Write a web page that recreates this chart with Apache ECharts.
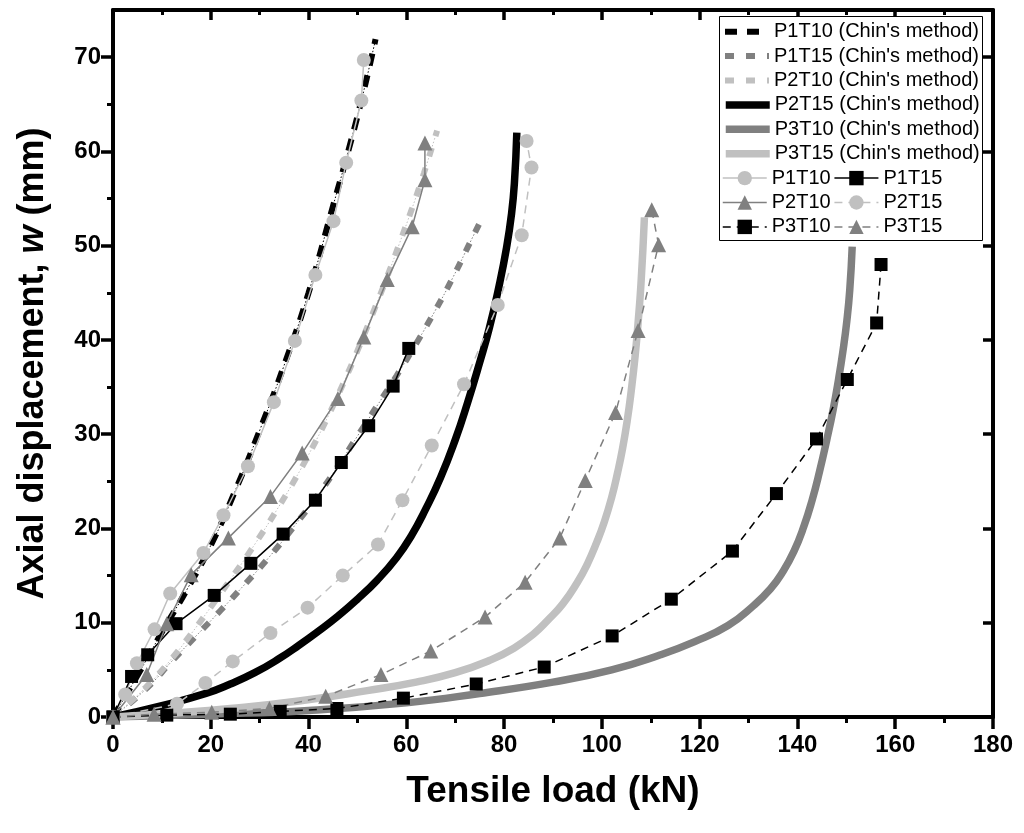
<!DOCTYPE html>
<html>
<head>
<meta charset="utf-8">
<script src="https://cdn.jsdelivr.net/npm/echarts@6/dist/echarts.min.js"></script>
<style>
  html, body { margin: 0; padding: 0; background: #fff; }
  #chart { width: 1024px; height: 833px; }
</style>
</head>
<body>
<div id="chart"></div>
<script>
// Load (kN) vs. axial displacement (mm) pairs for each pile test.
// Measured load-displacement curves
const P1T10 = [[0,0],[2.5,2.4],[4.9,5.7],[8.5,9.3],[11.7,13.1],[18.5,17.4],[22.6,21.4],[27.6,26.6],[32.9,33.4],[37.2,39.9],[41.4,46.9],[45.1,52.6],[47.7,58.8],[50.8,65.4],[51.3,69.7]];
const P1T15 = [[0,0],[3.8,4.3],[7.1,6.6],[12.9,9.9],[20.7,12.9],[28.2,16.3],[34.8,19.4],[41.4,23.0],[46.7,27.0],[52.3,30.9],[57.3,35.1],[60.5,39.1]];
const P2T10 = [[0,0],[6.9,4.5],[11.0,9.9],[16.0,15.1],[23.6,19.0],[32.2,23.4],[38.7,28.0],[46.0,33.8],[51.3,40.3],[56.1,46.4],[61.2,52.0],[63.8,57.0],[63.8,60.9]];
const P2T15 = [[0,0],[13.1,1.4],[18.9,3.6],[24.5,5.9],[32.2,8.9],[39.8,11.6],[47.0,15.0],[54.2,18.3],[59.2,23.0],[65.2,28.8],[71.8,35.3],[78.7,43.7],[83.6,51.1],[85.6,58.3],[84.6,61.1]];
const P3T10 = [[0,0],[11.0,0.2],[24.0,0.3],[34.2,0.6],[45.8,0.9],[59.4,2.0],[74.3,3.5],[88.2,5.3],[102.1,8.6],[114.2,12.5],[126.7,17.6],[135.7,23.7],[143.9,29.5],[150.2,35.8],[156.2,41.8],[157.1,48.0]];
const P3T15 = [[0,0],[8.4,0.3],[20.2,0.5],[32.0,0.9],[43.5,2.2],[54.8,4.5],[65.0,7.0],[76.1,10.6],[84.3,14.3],[91.4,19.0],[96.6,25.1],[102.8,32.3],[107.4,41.0],[111.6,50.1],[110.2,53.8]];

// Hyperbolic fits by Chin's method
const chinP1T10 = [[0,0],[5,4.4],[10,9.0],[15,13.4],[20,18.2],[25,24.0],[30,30.4],[35,37.3],[40,45.0],[45,54.2],[48,59.8],[51,65.8],[53.7,71.9]];
const chinP1T15 = [[0,0],[7,3.1],[12,5.9],[17,8.6],[22,11.3],[27,14.1],[32,17.0],[37,20.2],[42,23.6],[46,26.6],[50,29.8],[54,33.0],[58,36.2],[62,39.6],[66,43.2],[69.5,46.6],[73,50.3],[75,52.4]];
const chinP2T10 = [[0,0],[6.6,3.1],[11.7,6.0],[16.1,8.9],[20.2,11.8],[25,15.3],[29.1,18.4],[33.3,21.8],[37.1,25.1],[40.7,28.5],[44,31.9],[47.2,35.5],[50.2,39.1],[53.5,43.3],[56,46.6],[58.5,50.1],[61.2,54.0],[63.6,57.7],[65.7,61.2],[66.3,62.2]];
const chinP2T15 = [[0,0],[10,1.2],[19,2.5],[24,3.5],[29,4.7],[34,6.2],[38,7.6],[42,9.1],[46,10.7],[50,12.5],[54,14.5],[58,16.9],[61,19.2],[64,22.1],[67,25.4],[70,29.4],[72.5,33.3],[75,37.6],[77,41.3],[79,45.8],[80.5,49.8],[81.5,53.3],[82.1,56.6],[82.6,62.0]];
const chinP3T10 = [[0,0],[20,0.3],[40,0.7],[60,1.5],[75,2.5],[90,3.7],[102,5.0],[112,6.6],[119,8.0],[125.8,9.7],[131,11.8],[134.5,13.6],[137,15.4],[139.3,17.6],[141.3,20.2],[143,23.0],[144.5,26.0],[146,29.4],[147.3,32.6],[148.4,35.8],[149.3,38.8],[150.1,42.0],[150.7,45.3],[151.2,49.9]];
const chinP3T15 = [[0,0],[12,0.4],[24,0.9],[38,1.7],[52,2.8],[62,3.7],[70,4.7],[77,6.0],[82,7.3],[86,8.8],[89,10.3],[92,12.0],[95,14.3],[97,16.2],[99,18.6],[100.5,20.7],[102,23.3],[103.2,25.9],[104.2,28.4],[105.2,31.5],[106,34.6],[106.8,38.3],[107.4,41.8],[108,46.0],[108.7,53.0]];

// Axis ticks
const xTicks = [0, 20, 40, 60, 80, 100, 120, 140, 160, 180];
const yTicks = [0, 10, 20, 30, 40, 50, 60, 70];
const yMinorTicks = [5, 15, 25, 35, 45, 55, 65];

const BLACK = '#000000', GRAY = '#808080', LIGHT = '#c0c0c0';
const FONT = "'Liberation Sans', Arial, Helvetica, sans-serif";

const chinNames = [
  "P1T10 (Chin's method)", "P1T15 (Chin's method)", "P2T10 (Chin's method)",
  "P2T15 (Chin's method)", "P3T10 (Chin's method)", "P3T15 (Chin's method)"
];
const CHIN_DASH_W = 6, CHIN_SOLID_W = 7.5;

function chinDashed(name, data, color, dash) {
  return [
    { name, type: 'line', data, symbol: 'none', smooth: 0.5,
      lineStyle: { color, width: CHIN_DASH_W, type: dash }, itemStyle: { color }, z: 2 },
    { name, type: 'line', data, symbol: 'none', smooth: 0.5,
      lineStyle: { color, width: 1, type: [1.5, 2] }, itemStyle: { color }, z: 2 }
  ];
}
function chinSolid(name, data, color) {
  return { name, type: 'line', data, symbol: 'none', smooth: 0.5,
    lineStyle: { color, width: CHIN_SOLID_W, type: 'solid' }, itemStyle: { color }, z: 2 };
}
function measured(name, data, color, symbol, size, dashed) {
  return { name, type: 'line', data, symbol, symbolSize: size, showSymbol: true,
    lineStyle: { color, width: 1.5, type: dashed ? [8, 6] : 'solid' },
    itemStyle: { color }, z: 3 };
}

const series = [
  ...chinDashed(chinNames[0], chinP1T10, BLACK, [12, 10]),
  ...chinDashed(chinNames[1], chinP1T15, GRAY, [9, 12]),
  ...chinDashed(chinNames[2], chinP2T10, LIGHT, [9, 12]),
  chinSolid(chinNames[3], chinP2T15, BLACK),
  chinSolid(chinNames[4], chinP3T10, GRAY),
  chinSolid(chinNames[5], chinP3T15, LIGHT),
  measured('P1T10', P1T10, LIGHT, 'circle', 14, false),
  measured('P1T15', P1T15, BLACK, 'rect', 13, false),
  measured('P2T10', P2T10, GRAY, 'triangle', 15, false),
  measured('P2T15', P2T15, LIGHT, 'circle', 14, true),
  measured('P3T10', P3T10, BLACK, 'rect', 13, true),
  measured('P3T15', P3T15, GRAY, 'triangle', 15, true)
];

// Legend rows
const rowTop = 31.7, rowStep = 24.4;
const legendText = { fontSize: 20, fontFamily: FONT, color: '#000' };
const legends = [];
chinNames.forEach((n, i) => {
  legends.push({
    data: [n], left: 722, top: rowTop + i * rowStep - 10, padding: 0,
    itemWidth: 44, itemHeight: 18, selectedMode: false, textStyle: legendText,
    itemStyle: { opacity: 0 },
    lineStyle: { width: i < 3 ? CHIN_DASH_W : CHIN_SOLID_W }
  });
});
[['P1T10', 'P1T15'], ['P2T10', 'P2T15'], ['P3T10', 'P3T15']].forEach((pair, j) => {
  legends.push({
    data: pair, orient: 'horizontal', left: 722, top: rowTop + (6 + j) * rowStep - 10,
    padding: 0, itemWidth: 44, itemHeight: 18, itemGap: 3, selectedMode: false,
    textStyle: legendText, lineStyle: { width: 1.5 }
  });
});

const axisLine = { show: true, onZero: false, lineStyle: { color: '#000', width: 4 } };
const labelStyle = { fontSize: 24, fontWeight: 'bold', fontFamily: FONT, color: '#000' };

const option = {
  animation: false,
  backgroundColor: '#fff',
  grid: { left: 113, right: 31, top: 10, bottom: 116 },
  legend: legends,
  graphic: [{
    type: 'rect', z: 3,
    shape: { x: 719.5, y: 16.5, width: 263, height: 224 },
    style: { fill: '#fff', stroke: '#000', lineWidth: 1 }
  }],
  xAxis: [
    { type: 'value', position: 'bottom', min: 0, max: 180, interval: 20,
      axisLine,
      axisTick: { show: true, length: 12, lineStyle: { width: 3.5, color: '#000' } },
      minorTick: { show: true, splitNumber: 2, length: 6, lineStyle: { width: 3, color: '#000' } },
      splitLine: { show: false }, minorSplitLine: { show: false },
      axisLabel: { ...labelStyle, margin: 16, customValues: xTicks },
      name: 'Tensile load (kN)', nameLocation: 'middle', nameGap: 56,
      nameTextStyle: { fontSize: 37, fontWeight: 'bold', fontFamily: FONT, color: '#000' } },
    { type: 'value', position: 'top', min: 0, max: 180, interval: 20,
      axisLine,
      axisTick: { show: true, inside: true, length: 10, lineStyle: { width: 3.5, color: '#000' } },
      minorTick: { show: true, splitNumber: 2, length: 5, lineStyle: { width: 3, color: '#000' } },
      splitLine: { show: false }, axisLabel: { show: false } }
  ],
  yAxis: [
    { type: 'value', position: 'left', min: 0, max: 75,
      axisLine,
      axisTick: { show: true, length: 12, customValues: yTicks, lineStyle: { width: 3.5, color: '#000' } },
      splitLine: { show: false },
      axisLabel: { ...labelStyle, margin: 12, customValues: yTicks },
      name: '{n|Axial displacement, }{i|w}{n| (mm)}', nameLocation: 'middle', nameGap: 62,
      nameTextStyle: { fontSize: 36, fontWeight: 'bold', fontFamily: FONT, color: '#000',
        rich: {
          n: { fontSize: 36, fontWeight: 'bold', fontFamily: FONT, color: '#000' },
          i: { fontSize: 36, fontWeight: 'bold', fontStyle: 'italic', fontFamily: FONT, color: '#000' }
        } } },
    { type: 'value', position: 'left', min: 0, max: 75,
      axisLine: { show: false },
      axisTick: { show: true, length: 6, customValues: yMinorTicks, lineStyle: { width: 3, color: '#000' } },
      splitLine: { show: false }, axisLabel: { show: false } },
    { type: 'value', position: 'right', min: 0, max: 75,
      axisLine,
      axisTick: { show: true, inside: true, length: 10, customValues: yTicks, lineStyle: { width: 3.5, color: '#000' } },
      splitLine: { show: false }, axisLabel: { show: false } },
    { type: 'value', position: 'right', min: 0, max: 75,
      axisLine: { show: false },
      axisTick: { show: true, inside: true, length: 5, customValues: yMinorTicks, lineStyle: { width: 3, color: '#000' } },
      splitLine: { show: false }, axisLabel: { show: false } }
  ],
  series
};

const chart = echarts.init(document.getElementById('chart'), null, { renderer: 'canvas' });
chart.setOption(option);
</script>
</body>
</html>
